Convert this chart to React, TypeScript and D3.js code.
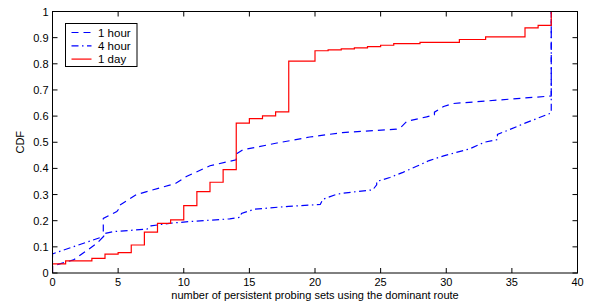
import React from "react";
import * as d3 from "d3";

const xTicks = [0, 5, 10, 15, 20, 25, 30, 35, 40];
const yTicks = [0, 0.1, 0.2, 0.3, 0.4, 0.5, 0.6, 0.7, 0.8, 0.9, 1];

// 1 day: step CDF (x where the step occurs, value after it)
const dayX = [0, 0, 1, 3, 4, 5, 6, 7, 8, 9, 10, 11, 12, 13, 14, 15, 16, 17, 18, 20, 21, 22, 23, 24, 25, 26, 28, 31, 33, 36, 37, 38];
const dayY = [0, 0.035, 0.046, 0.056, 0.072, 0.078, 0.107, 0.156, 0.19, 0.203, 0.258, 0.311, 0.347, 0.395, 0.573, 0.59, 0.601, 0.616, 0.81, 0.85, 0.853, 0.857, 0.861, 0.866, 0.871, 0.877, 0.882, 0.893, 0.903, 0.937, 0.947, 1];

// 1 hour
const hourX = [0, 0, 1.6, 3.4, 3.87, 3.87, 4.9, 5.14, 5.14, 6.4, 9.4, 10.2, 12, 14, 14, 14.5, 17.1, 19.6, 22.1, 26.2, 26.6, 27, 28.5, 29.1, 29.1, 29.8, 30.5, 38, 38];
const hourY = [0, 0.027, 0.05, 0.114, 0.139, 0.209, 0.235, 0.25, 0.26, 0.3, 0.343, 0.369, 0.41, 0.433, 0.455, 0.471, 0.497, 0.52, 0.537, 0.55, 0.56, 0.58, 0.597, 0.605, 0.615, 0.637, 0.648, 0.677, 1];

// 4 hour
const fourX = [0, 0, 3.9, 3.9, 4.6, 7.2, 7.5, 8.9, 10.5, 13.5, 14.3, 14.4, 15.4, 18, 20.4, 20.6, 21.6, 22.1, 24.4, 24.7, 24.7, 25.7, 26.7, 27.7, 28.7, 29.8, 31.8, 32.9, 33.9, 33.9, 34.8, 36, 38, 38];
const fourY = [0, 0.073, 0.14, 0.15, 0.158, 0.168, 0.18, 0.19, 0.197, 0.207, 0.213, 0.228, 0.244, 0.255, 0.262, 0.282, 0.3, 0.305, 0.318, 0.337, 0.35, 0.365, 0.385, 0.407, 0.43, 0.448, 0.475, 0.5, 0.51, 0.53, 0.548, 0.573, 0.612, 1];

const legendLabels = ["1 hour", "4 hour", "1 day"];
const xLabel = "number of persistent probing sets using the dominant route";
const yLabel = "CDF";

const W = 592, H = 307;
const L = 52.5, R = 577.5, T = 11.5, B = 273;
const FONT = "'Liberation Sans', Arial, Helvetica, sans-serif";

export default function App() {
  const x = d3.scaleLinear().domain([0, 40]).range([L, R]);
  const y = d3.scaleLinear().domain([0, 1]).range([B, T]);
  const zip = (xs: number[], ys: number[]) => xs.map((v, i) => [v, ys[i]] as [number, number]);
  const lin = d3.line<[number, number]>().x(d => x(d[0])).y(d => y(d[1]));
  const step = d3.line<[number, number]>().x(d => x(d[0])).y(d => y(d[1])).curve(d3.curveStepAfter);

  const series = [
    { d: lin(zip(hourX, hourY)), color: "#0000ff", dash: "7,5" },
    { d: lin(zip(fourX, fourY)), color: "#0000ff", dash: "7,3.5,1.5,3.5" },
    { d: step(zip(dayX, dayY)), color: "#ff0000", dash: "" },
  ];
  const tk = 5;
  return (
    <svg width={W} height={H} style={{ position: "absolute", left: 0, top: 0, background: "#fff" }} fontFamily={FONT}>
      <rect x={0} y={0} width={W} height={H} fill="#fff" />
      <defs>
        <clipPath id="plot"><rect x={L} y={T - 1} width={R - L} height={B - T + 1} /></clipPath>
      </defs>
      <g clipPath="url(#plot)">
        {series.map((s, i) => (
          <path key={i} d={s.d || ""} fill="none" stroke={s.color} strokeWidth={1.2} strokeDasharray={s.dash || undefined} />
        ))}
      </g>
      <rect x={L} y={T} width={R - L} height={B - T} fill="none" stroke="#000" strokeWidth={1} />
      {xTicks.map(t => (
        <g key={"x" + t}>
          <line x1={x(t)} x2={x(t)} y1={B} y2={B - tk} stroke="#000" />
          <line x1={x(t)} x2={x(t)} y1={T} y2={T + tk} stroke="#000" />
          <text x={x(t)} y={286} fontSize={11} textAnchor="middle">{t}</text>
        </g>
      ))}
      {yTicks.map(t => (
        <g key={"y" + t}>
          <line x1={L} x2={L + tk} y1={y(t)} y2={y(t)} stroke="#000" />
          <line x1={R} x2={R - tk} y1={y(t)} y2={y(t)} stroke="#000" />
          <text x={L - 4} y={y(t) + 4} fontSize={11} textAnchor="end">{t}</text>
        </g>
      ))}
      <text x={(L + R) / 2} y={299} fontSize={11} textAnchor="middle">{xLabel}</text>
      <text transform={`translate(24,${(T + B) / 2}) rotate(-90)`} fontSize={11} textAnchor="middle">{yLabel}</text>
      <g>
        <rect x={65.5} y={23.5} width={71.5} height={43} fill="#fff" stroke="#000" strokeWidth={1} />
        {legendLabels.map((lab, i) => {
          const ly = 32.5 + i * 13.3;
          return (
            <g key={lab}>
              <line x1={71.5} x2={91.5} y1={ly} y2={ly} stroke={series[i].color} strokeWidth={1.2} strokeDasharray={series[i].dash || undefined} />
              <text x={98} y={ly + 4} fontSize={11.5}>{lab}</text>
            </g>
          );
        })}
      </g>
    </svg>
  );
}
